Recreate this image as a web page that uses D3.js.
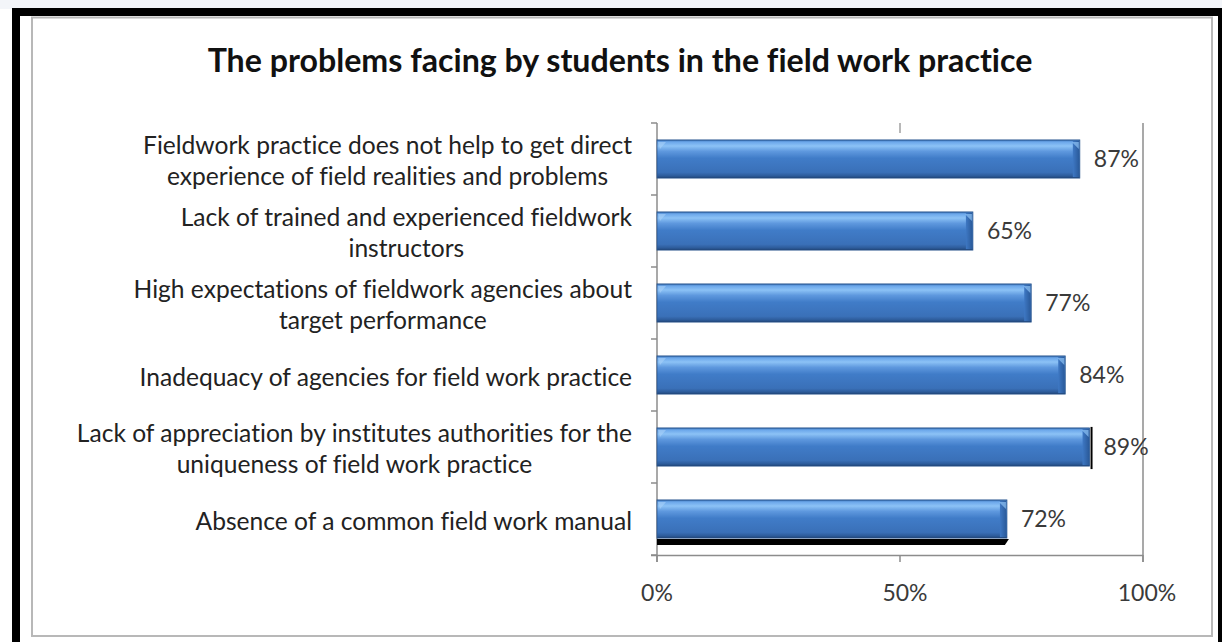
<!DOCTYPE html>
<html><head><meta charset="utf-8">
<script src="https://cdn.jsdelivr.net/npm/d3@7"></script>
<style>
html,body{margin:0;padding:0;background:#fff;}
svg{display:block;}
text{font-family:Lato,"Open Sans",sans-serif;font-variant-ligatures:none;}
</style></head>
<body>
<svg id="c" width="1222" height="642"></svg>
<script>
const title = "The problems facing by students in the field work practice";
const categories = [
  ["Fieldwork practice does not help to get direct","experience of field realities and problems"],
  ["Lack of trained and experienced fieldwork","instructors"],
  ["High expectations of fieldwork agencies about","target performance"],
  ["Inadequacy of agencies for field work practice"],
  ["Lack of appreciation by institutes authorities for the","uniqueness of field work practice"],
  ["Absence of a common field work manual"]
];
const values = [87, 65, 77, 84, 89, 72];
const valueLabels = ["87%","65%","77%","84%","89%","72%"];
const xTicks = [0, 50, 100];
const xTickLabels = ["0%","50%","100%"];

const svg = d3.select("#c");
const W = 1222, H = 642;

// page background and frames
svg.append("rect").attr("x",0).attr("y",0).attr("width",W).attr("height",H).attr("fill","#fff");
svg.append("rect").attr("x",0).attr("y",0).attr("width",W).attr("height",9).attr("fill","#f3f5f9");
svg.append("rect").attr("x",12).attr("y",8).attr("width",W-12).attr("height",8).attr("fill","#000");
svg.append("rect").attr("x",12).attr("y",8).attr("width",8).attr("height",H-8).attr("fill","#000");
svg.append("rect").attr("x",1218).attr("y",8).attr("width",4).attr("height",H-8).attr("fill","#000");
svg.append("rect").attr("x",32).attr("y",17.5).attr("width",1180).attr("height",618.5)
  .attr("fill","#fff").attr("stroke","#b8b8b8").attr("stroke-width",2);

// title
const t = svg.append("text").attr("x",620).attr("y",72).attr("text-anchor","middle")
  .attr("font-weight","bold").attr("font-size",27).attr("fill","#111").text(title);
const tw = t.node().getComputedTextLength();
t.attr("font-size", 27*825/tw);

// scales
const x = d3.scaleLinear().domain([0,100]).range([657,1143]);
const y = d3.scaleBand().domain(d3.range(categories.length)).range([123,555])
  .paddingInner(0.47).paddingOuter(0.235);

// gradients
const defs = svg.append("defs");
const g = defs.append("linearGradient").attr("id","barg").attr("x1",0).attr("y1",0).attr("x2",0).attr("y2",1);
[[0,"#2f63a6"],[0.05,"#6aa6ea"],[0.16,"#8cc2f6"],[0.3,"#5e98de"],[0.48,"#407cc8"],[0.85,"#3a70b8"],[0.95,"#2c5a98"],[1,"#1d3f70"]]
  .forEach(([o,c])=>g.append("stop").attr("offset",o).attr("stop-color",c));
const ge = defs.append("linearGradient").attr("id","endg").attr("x1",0).attr("y1",0).attr("x2",1).attr("y2",0);
[[0,"#3e78c4"],[1,"#2a5a9a"]].forEach(([o,c])=>ge.append("stop").attr("offset",o).attr("stop-color",c));

// axes lines
const axisColor = "#8c8c8c";
const plot = svg.append("g");
plot.append("line").attr("x1",x(0)).attr("x2",x(0)).attr("y1",123).attr("y2",562).attr("stroke",axisColor).attr("stroke-width",1.5);
plot.append("line").attr("x1",x(100)).attr("x2",x(100)).attr("y1",123).attr("y2",562).attr("stroke",axisColor).attr("stroke-width",1.5);
plot.append("line").attr("x1",651).attr("x2",x(100)).attr("y1",555.5).attr("y2",555.5).attr("stroke",axisColor).attr("stroke-width",1.5);
const bounds = d3.range(categories.length+1).map(i => 123 + i*y.step());
plot.selectAll(".lt").data(bounds).join("line").attr("x1",651).attr("x2",x(0))
  .attr("y1",d=>d).attr("y2",d=>d).attr("stroke",axisColor).attr("stroke-width",1.5);
plot.selectAll(".bt").data(xTicks).join("line").attr("x1",d=>x(d)).attr("x2",d=>x(d))
  .attr("y1",555).attr("y2",562).attr("stroke",axisColor).attr("stroke-width",1.5);
plot.append("line").attr("x1",x(50)).attr("x2",x(50)).attr("y1",123).attr("y2",133).attr("stroke","#a0a0a0").attr("stroke-width",1.5);

// x tick labels
svg.selectAll(".xl").data(xTicks).join("text").attr("x",(d,i)=>x(d)+[0,5,4][i]).attr("y",601)
  .attr("text-anchor","middle").attr("font-size",23).attr("fill","#3a3a3a").text((d,i)=>xTickLabels[i]);

// bars
const bars = svg.append("g");
values.forEach((v,i)=>{
  const y0 = y(i), h = y.bandwidth(), x0 = x(0), x1 = x(v);
  if(i===5){
    bars.append("path").attr("d",`M${x0},${y0+h+1}L${x1+2},${y0+h+1}L${x1-2},${y0+h+7}L${x0},${y0+h+7}Z`).attr("fill","#000");
  }
  bars.append("rect").attr("x",x0).attr("y",y0).attr("width",x1-x0).attr("height",h)
    .attr("fill","url(#barg)").attr("stroke","#2a568f").attr("stroke-width",0.8);
  bars.append("path").attr("d",`M${x0+1},${y0+2}L${x0+9},${y0+2}L${x0+3},${y0+9}Z`).attr("fill","#a9d0f8").attr("opacity",0.6);
  bars.append("rect").attr("x",x1-7).attr("y",y0+1).attr("width",6.5).attr("height",h-2).attr("fill","url(#endg)");
  bars.append("path").attr("d",`M${x1-8},${y0+2}L${x1-1},${y0+2}L${x1-1},${y0+9}Z`).attr("fill","#8fc3f5").attr("opacity",0.7);
  if(i===4){
    bars.append("line").attr("x1",x1+2).attr("x2",x1+2).attr("y1",y0-1).attr("y2",y0+h+3).attr("stroke","#000").attr("stroke-width",2);
  }
  svg.append("text").attr("x",x1+14).attr("y",y0+h/2+8).attr("font-size",23).attr("fill","#3a3a3a")
    .text(valueLabels[i]);
});

// category labels (multi-line, centered block, right-aligned at 632)
const lab = svg.append("g");
const probe = lab.append("text").attr("font-size",19).text(categories[0][0]);
const w0 = probe.node().getComputedTextLength();
probe.remove();
const fs = 19*489/w0;
const lh = 31;
categories.forEach((lines,i)=>{
  const cy = y(i) + y.bandwidth()/2 + 2;
  const ws = lines.map(s=>{
    const tt = lab.append("text").attr("font-size",fs).text(s);
    const w = tt.node().getComputedTextLength(); tt.remove(); return w;
  });
  const cx = 632 - d3.max(ws)/2;
  lines.forEach((s,j)=>{
    const ly = cy + (j - (lines.length-1)/2)*lh + fs*0.36;
    lab.append("text").attr("x",cx).attr("y",ly).attr("text-anchor","middle")
      .attr("font-size",fs).attr("fill","#222").text(s);
  });
});
</script>
</body></html>
